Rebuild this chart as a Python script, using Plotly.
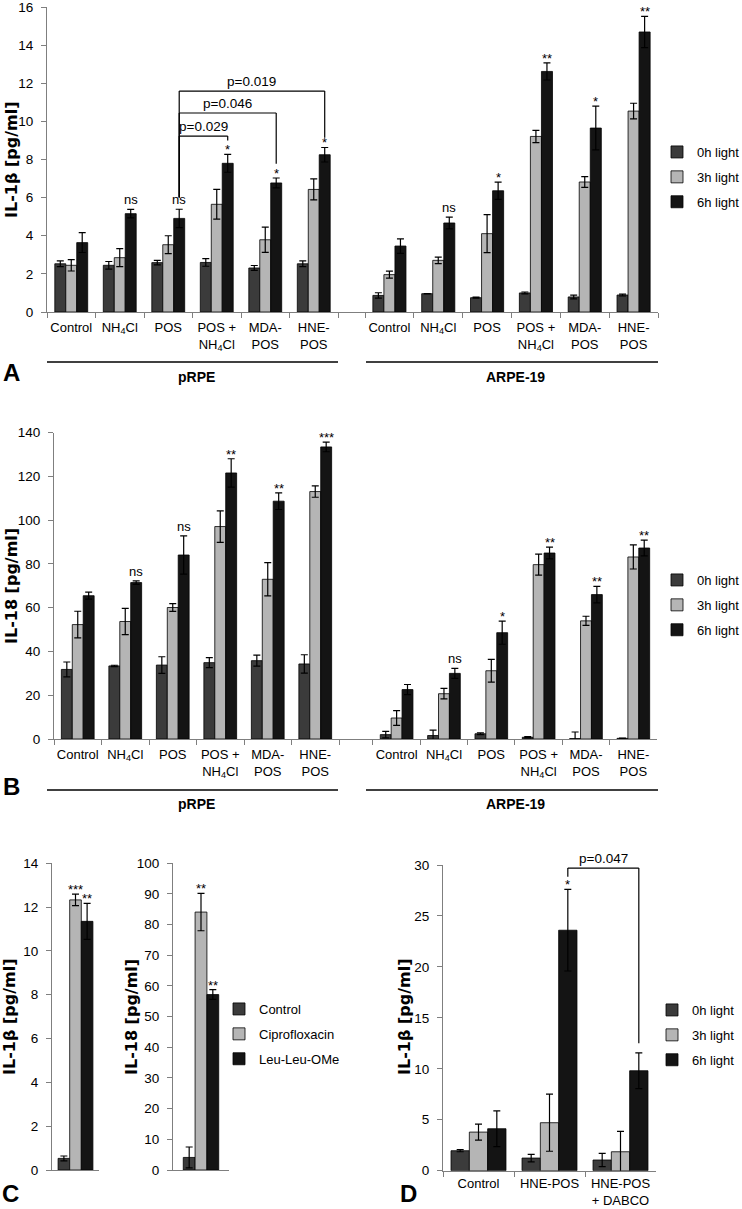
import plotly.graph_objects as go

W, H = 742, 1209

# ---------------- data ----------------
categories = ["Control", "NH<sub>4</sub>Cl", "POS", "POS +<br>NH<sub>4</sub>Cl", "MDA-<br>POS", "HNE-<br>POS"]
light_series = ["0h light", "3h light", "6h light"]

# Panel A: IL-1beta, pRPE
A_pRPE_0h = [2.53, 2.45, 2.59, 2.60, 2.31, 2.53]
A_pRPE_0h_err = [0.15, 0.20, 0.12, 0.20, 0.13, 0.15]
A_pRPE_3h = [2.45, 2.85, 3.53, 5.65, 3.79, 6.43]
A_pRPE_3h_err = [0.30, 0.47, 0.47, 0.78, 0.66, 0.55]
A_pRPE_6h = [3.64, 5.16, 4.91, 7.80, 6.77, 8.25]
A_pRPE_6h_err = [0.52, 0.22, 0.48, 0.47, 0.26, 0.38]
A_pRPE_sig = ["", "ns", "ns", "*", "*", "*"]

# Panel A: IL-1beta, ARPE-19
A_ARPE_0h = [0.87, 0.96, 0.75, 1.00, 0.79, 0.89]
A_ARPE_0h_err = [0.14, 0.01, 0.03, 0.05, 0.10, 0.05]
A_ARPE_3h = [1.96, 2.71, 4.11, 9.21, 6.82, 10.54]
A_ARPE_3h_err = [0.18, 0.17, 1.00, 0.32, 0.28, 0.41]
A_ARPE_6h = [3.46, 4.67, 6.36, 12.62, 9.65, 14.69]
A_ARPE_6h_err = [0.38, 0.31, 0.45, 0.45, 1.15, 0.82]
A_ARPE_sig = ["", "ns", "*", "**", "*", "**"]

# Panel A brackets: (from category, to category, height, right drop end, label)
A_brackets_from = [2, 2, 2]
A_brackets_to = [3, 4, 5]
A_brackets_top = [9.23, 10.44, 11.59]
A_brackets_end = [9.0, 7.78, 9.14]
A_brackets_text = ["p=0.029", "p=0.046", "p=0.019"]
A_brackets_start = 6.0

# Panel B: IL-18, pRPE
B_pRPE_0h = [31.8, 33.4, 33.8, 34.9, 35.8, 34.3]
B_pRPE_0h_err = [3.4, 0.3, 3.8, 2.3, 2.5, 4.2]
B_pRPE_3h = [52.3, 53.7, 60.1, 97.1, 73.0, 113.1]
B_pRPE_3h_err = [6.1, 6.0, 1.8, 7.2, 7.6, 2.6]
B_pRPE_6h = [65.5, 71.5, 84.1, 121.6, 108.7, 133.5]
B_pRPE_6h_err = [1.6, 0.8, 8.7, 6.5, 3.8, 2.2]
B_pRPE_sig = ["", "ns", "ns", "**", "**", "***"]

# Panel B: IL-18, ARPE-19
B_ARPE_0h = [2.0, 1.6, 2.4, 0.8, 0.2, 0.3]
B_ARPE_0h_err = [1.5, 2.5, 0.4, 0.3, 3.0, 0.1]
B_ARPE_3h = [9.6, 20.7, 31.2, 79.7, 54.0, 83.2]
B_ARPE_3h_err = [3.4, 2.4, 5.2, 4.8, 2.1, 5.5]
B_ARPE_6h = [22.6, 30.0, 48.6, 85.0, 66.0, 87.3]
B_ARPE_6h_err = [2.3, 2.3, 5.3, 2.7, 3.8, 3.6]
B_ARPE_sig = ["", "ns", "*", "**", "**", "**"]

# Panel C
C_series = ["Control", "Ciprofloxacin", "Leu-Leu-OMe"]
C_IL1b = [0.53, 12.33, 11.35]
C_IL1b_err = [0.11, 0.26, 0.82]
C_IL1b_sig = ["", "***", "**"]
C_IL18 = [4.1, 84.1, 57.2]
C_IL18_err = [3.4, 6.1, 1.6]
C_IL18_sig = ["", "**", "**"]

# Panel D
D_categories = ["Control", "HNE-POS", "HNE-POS<br>+ DABCO"]
D_0h = [1.96, 1.24, 1.05]
D_0h_err = [0.10, 0.37, 0.65]
D_3h = [3.79, 4.71, 1.86]
D_3h_err = [0.78, 2.80, 2.00]
D_6h = [4.12, 23.6, 9.81]
D_6h_err = [1.75, 4.00, 1.75]
D_sig = ["", "*", ""]
D_bracket_top = 29.7
D_bracket_start = 28.85
D_bracket_end = 12.5
D_bracket_text = "p=0.047"

# ---------------- styling ----------------
FONT = "Liberation Sans, Arial, sans-serif"
COLORS = ["#3b3b3b", "#b5b5b5", "#141414"]
AX = "#7f7f7f"
TICK_FS = 13.5
XTICK_FS = 13

fig = go.Figure()


def fx(p):
    return p / W


def fy(p):
    return 1 - p / H


def sig_shift(s):
    # asterisks sit high in the glyph box; pull them down toward the error bar
    return -5 if set(s) == {"*"} else 0


def add_bars(xa, ya, cats, vals, errs, names, bw, legend, showlegend):
    for k in range(len(vals)):
        fig.add_trace(go.Bar(
            x=cats, y=vals[k], width=bw, offset=-1.5 * bw + k * bw,
            name=names[k],
            marker=dict(color=COLORS[k], line=dict(color="black", width=0.8)),
            error_y=dict(type="data", array=errs[k], thickness=1.2, width=3.5, color="black"),
            xaxis=xa, yaxis=ya, legend=legend, showlegend=showlegend,
            legendgroup=f"{legend}_{k}",
        ))


def add_sig(xa, ya, bw, k, vals, errs, sigs, size=13):
    for i, s in enumerate(sigs):
        if not s:
            continue
        fig.add_annotation(
            x=i - bw + k * bw, y=vals[i] + errs[i], xref=xa, yref=ya,
            text=s, showarrow=False, yanchor="bottom", yshift=sig_shift(s),
            font=dict(family=FONT, size=size, color="black"),
        )


def set_x(name, dom, anchor, rng, labels=True, ticks="outside", standoff=0):
    fig.update_layout(**{name: dict(
        domain=[fx(dom[0]), fx(dom[1])], anchor=anchor, type="category", range=rng,
        tickson="boundaries", ticks=ticks, ticklen=5, tickcolor=AX, showline=True,
        linecolor=AX, linewidth=1, showgrid=False, zeroline=False, tickangle=0,
        showticklabels=labels, tickfont=dict(family=FONT, size=XTICK_FS, color="black"),
        ticklabelstandoff=standoff, ticklabeloverflow="allow", fixedrange=True,
    )})


def set_y(name, top, bottom, rng, dtick, anchor, visible=True):
    fig.update_layout(**{name: dict(
        domain=[fy(bottom), fy(top)], anchor=anchor, range=rng, dtick=dtick,
        visible=visible, ticks="outside", ticklen=5, tickcolor=AX, showline=True,
        linecolor=AX, linewidth=1, showgrid=False, zeroline=False,
        tickfont=dict(family=FONT, size=TICK_FS, color="black"), ticklabelstandoff=5,
        ticklabeloverflow="allow", fixedrange=True,
    )})


# ---------- Panel A ----------
bwA = 0.226
add_bars("x", "y", categories, [A_pRPE_0h, A_pRPE_3h, A_pRPE_6h],
         [A_pRPE_0h_err, A_pRPE_3h_err, A_pRPE_6h_err], light_series, bwA, "legend", False)
add_bars("x2", "y2", categories, [A_ARPE_0h, A_ARPE_3h, A_ARPE_6h],
         [A_ARPE_0h_err, A_ARPE_3h_err, A_ARPE_6h_err], light_series, bwA, "legend", True)
set_x("xaxis", (47, 338), "y", [-0.5, 5.5], standoff=3)
set_x("xaxis2", (338, 658), "y2", [-1.053, 5.5], standoff=3)
set_y("yaxis", 7, 312, [0, 16], 2, "x")
set_y("yaxis2", 7, 312, [0, 16], 2, "x2", visible=False)
add_sig("x", "y", bwA, 2, A_pRPE_6h, A_pRPE_6h_err, A_pRPE_sig)
add_sig("x2", "y2", bwA, 2, A_ARPE_6h, A_ARPE_6h_err, A_ARPE_sig)

for f, t, top, end, txt in zip(A_brackets_from, A_brackets_to, A_brackets_top,
                               A_brackets_end, A_brackets_text):
    x0 = f + bwA
    x1 = t + bwA
    line = dict(color="black", width=1.2)
    fig.add_shape(type="line", xref="x", yref="y", x0=x0, x1=x1, y0=top, y1=top, line=line)
    fig.add_shape(type="line", xref="x", yref="y", x0=x0, x1=x0, y0=A_brackets_start, y1=top, line=line)
    fig.add_shape(type="line", xref="x", yref="y", x0=x1, x1=x1, y0=end, y1=top, line=line)
    fig.add_annotation(x=(x0 + x1) / 2, y=top, xref="x", yref="y", text=txt, showarrow=False,
                       yanchor="bottom", font=dict(family=FONT, size=13.5, color="black"))

# ---------- Panel B ----------
bwB = 0.23
add_bars("x3", "y3", categories, [B_pRPE_0h, B_pRPE_3h, B_pRPE_6h],
         [B_pRPE_0h_err, B_pRPE_3h_err, B_pRPE_6h_err], light_series, bwB, "legend2", False)
add_bars("x4", "y4", categories, [B_ARPE_0h, B_ARPE_3h, B_ARPE_6h],
         [B_ARPE_0h_err, B_ARPE_3h_err, B_ARPE_6h_err], light_series, bwB, "legend2", True)
set_x("xaxis3", (54, 339), "y3", [-0.5, 5.5], standoff=3)
set_x("xaxis4", (339, 657), "y4", [-1.217, 5.5], standoff=3)
set_y("yaxis3", 432.7, 739, [0, 140], 20, "x3")
set_y("yaxis4", 432.7, 739, [0, 140], 20, "x4", visible=False)
add_sig("x3", "y3", bwB, 2, B_pRPE_6h, B_pRPE_6h_err, B_pRPE_sig)
add_sig("x4", "y4", bwB, 2, B_ARPE_6h, B_ARPE_6h_err, B_ARPE_sig)

# ---------- Panel C ----------
bwC1 = 0.247
bwC2 = 0.211
for k in range(3):
    fig.add_trace(go.Bar(
        x=["IL-1β"], y=[C_IL1b[k]], width=bwC1, offset=-1.5 * bwC1 + k * bwC1, name=C_series[k],
        marker=dict(color=COLORS[k], line=dict(color="black", width=0.8)),
        error_y=dict(type="data", array=[C_IL1b_err[k]], thickness=1.2, width=3.5, color="black"),
        xaxis="x5", yaxis="y5", legend="legend3", showlegend=True, legendgroup=f"c_{k}"))
    fig.add_trace(go.Bar(
        x=["IL-18"], y=[C_IL18[k]], width=bwC2, offset=-1.5 * bwC2 + k * bwC2, name=C_series[k],
        marker=dict(color=COLORS[k], line=dict(color="black", width=0.8)),
        error_y=dict(type="data", array=[C_IL18_err[k]], thickness=1.2, width=3.5, color="black"),
        xaxis="x6", yaxis="y6", legend="legend3", showlegend=False, legendgroup=f"c_{k}"))
    if C_IL1b_sig[k]:
        fig.add_annotation(x=-bwC1 + k * bwC1, y=C_IL1b[k] + C_IL1b_err[k], xref="x5", yref="y5",
                           text=C_IL1b_sig[k], showarrow=False, yanchor="bottom",
                           yshift=sig_shift(C_IL1b_sig[k]),
                           font=dict(family=FONT, size=13, color="black"))
    if C_IL18_sig[k]:
        fig.add_annotation(x=-bwC2 + k * bwC2, y=C_IL18[k] + C_IL18_err[k], xref="x6", yref="y6",
                           text=C_IL18_sig[k], showarrow=False, yanchor="bottom",
                           yshift=sig_shift(C_IL18_sig[k]),
                           font=dict(family=FONT, size=13, color="black"))
set_x("xaxis5", (52, 99), "y5", [-0.5, 0.5], labels=False, ticks="")
set_x("xaxis6", (173, 229), "y6", [-0.5, 0.5], labels=False, ticks="")
set_y("yaxis5", 863.3, 1170, [0, 14], 2, "x5")
set_y("yaxis6", 863.3, 1170, [0, 100], 10, "x6")

# ---------- Panel D ----------
bwD = 0.258
add_bars("x7", "y7", D_categories, [D_0h, D_3h, D_6h], [D_0h_err, D_3h_err, D_6h_err],
         light_series, bwD, "legend4", True)
set_x("xaxis7", (443, 656), "y7", [-0.5, 2.5], standoff=1)
set_y("yaxis7", 865, 1170.7, [0, 30], 5, "x7")
add_sig("x7", "y7", bwD, 2, D_6h, D_6h_err, D_sig)
x0 = 1 + bwD
x1 = 2 + bwD
line = dict(color="black", width=1.2)
fig.add_shape(type="line", xref="x7", yref="y7", x0=x0, x1=x1, y0=D_bracket_top, y1=D_bracket_top, line=line)
fig.add_shape(type="line", xref="x7", yref="y7", x0=x0, x1=x0, y0=D_bracket_start, y1=D_bracket_top, line=line)
fig.add_shape(type="line", xref="x7", yref="y7", x0=x1, x1=x1, y0=D_bracket_end, y1=D_bracket_top, line=line)
fig.add_annotation(x=(x0 + x1) / 2, y=D_bracket_top, xref="x7", yref="y7", text=D_bracket_text,
                   showarrow=False, yanchor="bottom", font=dict(family=FONT, size=13.5, color="black"))

# ---------- axis titles, panel letters, group labels ----------
TITLE_FONT = dict(family="DejaVu Sans, sans-serif", size=16, color="black", weight="bold")
for (x, y, txt) in [(11, 160, "IL-1β [pg/ml]"), (11, 586, "IL-18 [pg/ml]"),
                    (10, 1017, "IL-1β [pg/ml]"), (132, 1017, "IL-18 [pg/ml]"),
                    (405, 1017, "IL-1β [pg/ml]")]:
    fig.add_annotation(x=fx(x), y=fy(y), xref="paper", yref="paper", text=txt, textangle=-90,
                       showarrow=False, font=TITLE_FONT, xanchor="center", yanchor="middle")

LETTER_FONT = dict(family=FONT, size=24, color="black", weight="bold")
for (x, y, txt) in [(11, 372, "A"), (11, 786, "B")]:
    fig.add_annotation(x=fx(x), y=fy(y), xref="paper", yref="paper", text=txt, showarrow=False,
                       font=LETTER_FONT, xanchor="center", yanchor="middle")
for (x, txt) in [(10, "C"), (408, "D")]:
    fig.add_annotation(x=fx(x), y=0, xref="paper", yref="paper", text=txt, showarrow=False,
                       font=LETTER_FONT, xanchor="center", yanchor="bottom")

GROUP_FONT = dict(family=FONT, size=14, color="black", weight="bold")
for (xa, xb, yl, xt, yt, txt) in [(47, 338, 362, 196, 377, "pRPE"), (366, 658, 362, 515, 377, "ARPE-19"),
                                  (47, 338, 790, 196, 804, "pRPE"), (366, 658, 790, 515, 804, "ARPE-19")]:
    fig.add_shape(type="line", xref="paper", yref="paper", x0=fx(xa), x1=fx(xb), y0=fy(yl), y1=fy(yl),
                  line=dict(color="black", width=1.5))
    fig.add_annotation(x=fx(xt), y=fy(yt), xref="paper", yref="paper", text=txt, showarrow=False,
                       font=GROUP_FONT, xanchor="center", yanchor="middle")

LEG = dict(xanchor="left", yanchor="top", bgcolor="rgba(0,0,0,0)", tracegroupgap=5,
           font=dict(family=FONT, size=13, color="black"), itemwidth=30)
fig.update_layout(
    width=W, height=H,
    margin=dict(l=0, r=0, t=0, b=0, autoexpand=False),
    paper_bgcolor="white", plot_bgcolor="white",
    barmode="overlay",
    showlegend=True,
    legend=dict(x=fx(657), y=fy(137), **LEG),
    legend2=dict(x=fx(657), y=fy(565), **LEG),
    legend3=dict(x=fx(219), y=fy(994), **LEG),
    legend4=dict(x=fx(652), y=fy(995), **LEG),
)

fig.write_html("out.html", post_script="document.body.style.margin='0px';",
               config={"displayModeBar": False})
